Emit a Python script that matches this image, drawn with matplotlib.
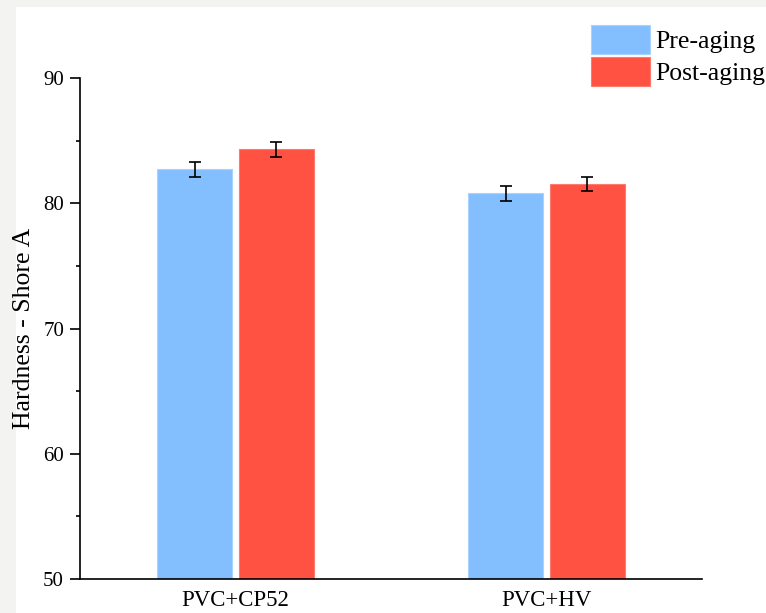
import matplotlib.pyplot as plt
import numpy as np
from matplotlib.patches import Rectangle
from matplotlib.ticker import MultipleLocator

plt.rcParams['font.family'] = ['Liberation Serif', 'DejaVu Serif']

# data
categories = ['PVC+CP52', 'PVC+HV']
series = ['Pre-aging', 'Post-aging']
pre_aging = [82.7, 80.8]
post_aging = [84.3, 81.5]
pre_err = [0.6, 0.6]
post_err = [0.57, 0.56]
colors = ['#83BEFF', '#FF5242']

fig = plt.figure(figsize=(7.66, 6.13), dpi=100, facecolor='#f3f3f1')
# white panel inside the light grey frame
fig.patches.append(Rectangle((16 / 766, 0), 1, 1 - 7 / 613, transform=fig.transFigure,
                             facecolor='white', edgecolor='none', zorder=-10))

ax = fig.add_axes([80 / 766, 34 / 613, 622 / 766, 501 / 613])
ax.set_facecolor('none')
ax.set_zorder(2)

x = np.arange(1, len(categories) + 1)
w = 0.24
off = 0.131
ax.bar(x - off, pre_aging, w, color=colors[0], edgecolor='#a8d2ff', linewidth=0.8,
       label=series[0])
ax.bar(x + off, post_aging, w, color=colors[1], edgecolor='#ff7a6e', linewidth=0.8,
       label=series[1])
ax.errorbar(x - off, pre_aging, yerr=pre_err, fmt='none', ecolor='black',
            elinewidth=1.2, capsize=4, capthick=1.2)
ax.errorbar(x + off, post_aging, yerr=post_err, fmt='none', ecolor='black',
            elinewidth=1.2, capsize=4, capthick=1.2)

ax.set_xlim(0.5, 2.5)
ax.set_ylim(50, 90)
ax.set_xticks(x)
ax.set_xticklabels(categories, fontsize=16.5)
ax.tick_params(axis='x', length=0, pad=8)
ax.yaxis.set_major_locator(MultipleLocator(10))
ax.yaxis.set_minor_locator(MultipleLocator(5))
ax.tick_params(axis='y', which='major', length=7.5, width=1.2, labelsize=15, pad=4)
ax.tick_params(axis='y', which='minor', length=3, width=1.2)
ax.set_ylabel('Hardness - Shore A', fontsize=18.5, labelpad=6)

for s in ['top', 'right']:
    ax.spines[s].set_visible(False)
for s in ['left', 'bottom']:
    ax.spines[s].set_linewidth(1.2)

lfs = 18.5
fs = lfs * 100 / 72
leg = fig.legend(loc='upper left', bbox_to_anchor=(591 / 766, 1 - 25 / 613), frameon=False,
                 fontsize=lfs, borderpad=0, borderaxespad=0, handlelength=59 / fs,
                 handleheight=34.5 / fs, handletextpad=5 / fs, labelspacing=0.12)
leg.set_zorder(3)

fig.savefig('out.png', dpi=100, facecolor=fig.get_facecolor())
